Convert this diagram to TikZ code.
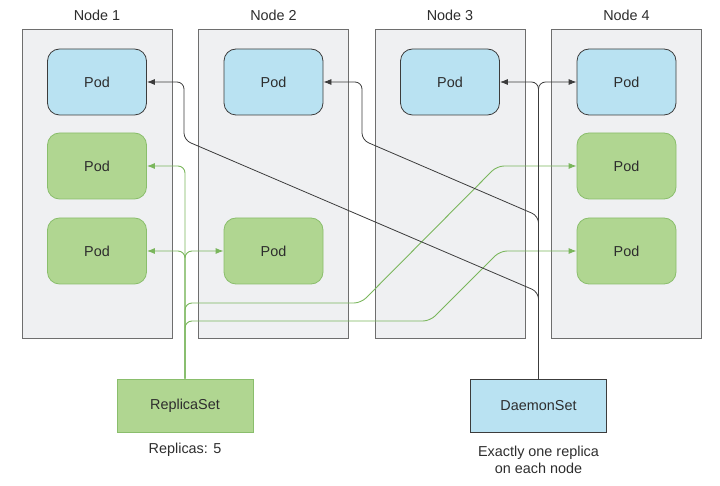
\documentclass[tikz,border=0pt]{standalone}
\usepackage{fontspec}
\setmainfont{Liberation Sans}
\usetikzlibrary{arrows.meta}
\definecolor{nodegray}{RGB}{239,240,242}
\definecolor{nodeedge}{RGB}{110,110,110}
\definecolor{podblue}{RGB}{185,226,242}
\definecolor{podgreen}{RGB}{176,214,145}
\definecolor{greenedge}{RGB}{138,190,108}
\definecolor{greenline}{RGB}{122,182,92}
\definecolor{darkline}{RGB}{60,60,60}
\definecolor{textgray}{RGB}{45,45,45}
\begin{document}
\begin{tikzpicture}[x=1pt,y=-1pt,font=\fontsize{14.4}{17.5}\selectfont,text=textgray,
    nodebox/.style={draw=nodeedge,fill=nodegray,line width=1pt,minimum width=150pt,minimum height=309pt,inner sep=0pt},
    pod/.style={rounded corners=12pt,line width=0.8pt,minimum width=99pt,minimum height=66pt,inner sep=0pt},
    bluepod/.style={pod,draw=darkline,fill=podblue},
    greenpod/.style={pod,draw=greenedge,fill=podgreen},
    setbox/.style={line width=1pt,minimum width=136pt,minimum height=53pt,inner sep=0pt},
    greenarrow/.style={draw=greenline,line width=0.9pt,rounded corners=7pt,-{Latex[length=8pt,width=6pt]}},
    darkarrow/.style={draw=darkline,line width=0.8pt,rounded corners=7pt,-{Latex[length=8pt,width=6pt]}}]
    \useasboundingbox (0,0) rectangle (720,486);
    \foreach \i in {1,...,4} {
        \node[nodebox] (node\i) at ({97+176.5*(\i-1)},184) {};
        \node (label\i) at ({97+176.5*(\i-1)},15) {Node \i};
        \node[bluepod] (pod\i) at ({97+176.5*(\i-1)},82) {Pod};
    }
    \node[greenpod] (pod1b) at (97,166) {Pod};
    \node[greenpod] (pod1c) at (97,251) {Pod};
    \node[greenpod] (pod2c) at (273.5,251) {Pod};
    \node[greenpod] (pod4b) at (626.5,166) {Pod};
    \node[greenpod] (pod4c) at (626.5,251) {Pod};

    \node[setbox,draw=greenedge,fill=podgreen] (rs) at (185,405.5) {ReplicaSet};
    \node (rslabel) at (185,450) {Replicas: 5};
    \node[setbox,draw=darkline,fill=podblue] (ds) at (538.5,405.5) {DaemonSet};
    \node[align=center] (dslabel) at (538.5,460) {Exactly one replica\\on each node};

    \draw[greenarrow] (rs.north) |- (pod1b.east);
    \draw[greenarrow] (rs.north) |- (pod1c.east);
    \draw[greenarrow] (rs.north) |- (pod2c.west);
    \draw[greenarrow] (rs.north) |- (361,303) -- (497,166) -- (pod4b.west);
    \draw[greenarrow] (rs.north) |- (430,321) -- (500,251) -- (pod4c.west);

    \draw[darkarrow] (ds.north) |- (pod3.east);
    \draw[darkarrow] (ds.north) |- (pod4.west);
    \draw[darkarrow] (ds.north) -- (538.5,216) -- (362,140) |- (pod2.east);
    \draw[darkarrow] (ds.north) -- (538.5,292) -- (184,140) |- (pod1.east);
\end{tikzpicture}
\end{document}
